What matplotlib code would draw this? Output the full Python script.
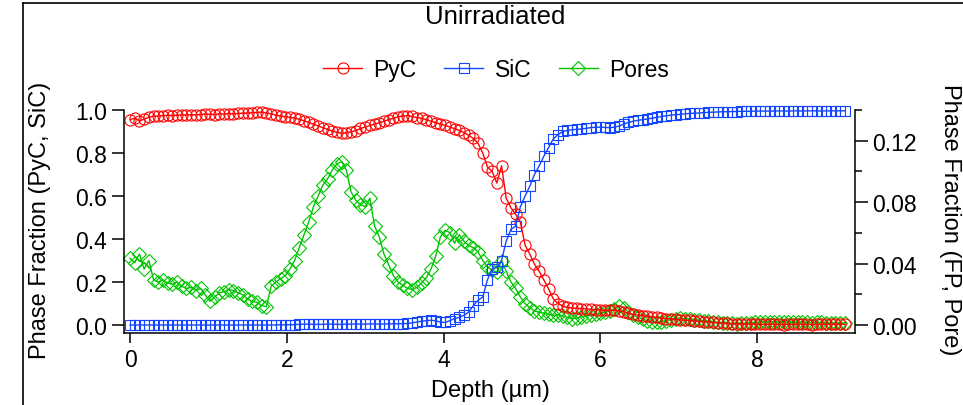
import numpy as np
import matplotlib
matplotlib.use('Agg')
import matplotlib.pyplot as plt
from matplotlib.lines import Line2D
from matplotlib.ticker import FixedLocator, FormatStrFormatter

plt.rcParams['font.family'] = ['Liberation Sans', 'DejaVu Sans']

# depth grid (µm), one sample every 0.06 µm
depth = np.round(np.arange(153) * 0.06, 2)

# phase fraction of PyC (left axis)
pyc = [0.955, 0.962, 0.950, 0.957, 0.966, 0.972, 0.971, 0.974, 0.975, 0.974,
       0.976, 0.977, 0.976, 0.978, 0.977, 0.979, 0.981, 0.980, 0.979, 0.982,
       0.981, 0.983, 0.982, 0.984, 0.985, 0.986, 0.987, 0.989, 0.990, 0.986,
       0.982, 0.976, 0.972, 0.968, 0.966, 0.962, 0.956, 0.950, 0.942, 0.934,
       0.926, 0.918, 0.910, 0.902, 0.896, 0.892, 0.894, 0.899, 0.904, 0.914,
       0.921, 0.928, 0.934, 0.941, 0.948, 0.955, 0.962, 0.968, 0.972, 0.974,
       0.970, 0.965, 0.961, 0.955, 0.948, 0.941, 0.934, 0.928, 0.921, 0.913,
       0.905, 0.895, 0.883, 0.868, 0.845, 0.800, 0.735, 0.715, 0.660, 0.740,
       0.590, 0.545, 0.515, 0.480, 0.372, 0.330, 0.283, 0.250, 0.210, 0.168,
       0.122, 0.100, 0.088, 0.082, 0.079, 0.078, 0.076, 0.075, 0.073, 0.071,
       0.070, 0.069, 0.068, 0.068, 0.066, 0.062, 0.054, 0.049, 0.046, 0.043,
       0.041, 0.038, 0.035, 0.032, 0.030, 0.028, 0.026, 0.024, 0.022, 0.021,
       0.019, 0.017, 0.016, 0.014, 0.012, 0.010, 0.009, 0.007, 0.006, 0.005,
       0.005, 0.004, 0.004, 0.004, 0.003, 0.003, 0.004, 0.003, 0.003, 0.002,
       0.003, 0.003, 0.004, 0.003, 0.003, 0.002, 0.003, 0.003, 0.003, 0.004,
       0.003, 0.003, 0.003]

# phase fraction of SiC (left axis)
sic = [0.000, 0.000, 0.000, 0.000, 0.000, 0.000, 0.000, 0.000, 0.000, 0.000,
       0.000, 0.000, 0.000, 0.000, 0.000, 0.000, 0.000, 0.000, 0.000, 0.000,
       0.000, 0.000, 0.000, 0.000, 0.000, 0.000, 0.000, 0.000, 0.000, 0.000,
       0.000, 0.000, 0.001, 0.001, 0.001, 0.002, 0.003, 0.004, 0.004, 0.003,
       0.003, 0.003, 0.004, 0.004, 0.003, 0.003, 0.004, 0.004, 0.005, 0.004,
       0.004, 0.005, 0.005, 0.004, 0.005, 0.005, 0.006, 0.006, 0.006, 0.007,
       0.010, 0.014, 0.018, 0.020, 0.022, 0.020, 0.013, 0.012, 0.020, 0.030,
       0.036, 0.045, 0.060, 0.090, 0.115, 0.130, 0.210, 0.260, 0.270, 0.300,
       0.390, 0.445, 0.460, 0.550, 0.600, 0.645, 0.700, 0.740, 0.785, 0.825,
       0.865, 0.885, 0.900, 0.905, 0.908, 0.910, 0.912, 0.915, 0.918, 0.920,
       0.920, 0.919, 0.918, 0.920, 0.925, 0.935, 0.942, 0.948, 0.952, 0.955,
       0.958, 0.962, 0.966, 0.970, 0.973, 0.976, 0.978, 0.980, 0.982, 0.984,
       0.985, 0.986, 0.988, 0.989, 0.990, 0.991, 0.992, 0.992, 0.993, 0.993,
       0.994, 0.994, 0.994, 0.995, 0.995, 0.995, 0.995, 0.995, 0.996, 0.995,
       0.995, 0.996, 0.996, 0.995, 0.996, 0.996, 0.996, 0.995, 0.996, 0.996,
       0.996, 0.996, 0.996]

# phase fraction of pores (right axis)
pores = [0.0434, 0.0406, 0.0462, 0.0364, 0.0420, 0.0294, 0.0280, 0.0294, 0.0273, 0.0266,
         0.0280, 0.0252, 0.0238, 0.0245, 0.0224, 0.0238, 0.0196, 0.0154, 0.0182, 0.0210,
         0.0217, 0.0231, 0.0224, 0.0210, 0.0196, 0.0168, 0.0154, 0.0147, 0.0126, 0.0119,
         0.0252, 0.0280, 0.0301, 0.0322, 0.0364, 0.0420, 0.0504, 0.0588, 0.0672, 0.0770,
         0.0840, 0.0910, 0.0952, 0.1008, 0.1050, 0.1064, 0.1008, 0.0868, 0.0812, 0.0784,
         0.0770, 0.0826, 0.0644, 0.0574, 0.0462, 0.0392, 0.0322, 0.0280, 0.0259, 0.0238,
         0.0231, 0.0245, 0.0273, 0.0308, 0.0364, 0.0448, 0.0574, 0.0616, 0.0602, 0.0532,
         0.0588, 0.0546, 0.0518, 0.0504, 0.0476, 0.0420, 0.0378, 0.0357, 0.0343, 0.0420,
         0.0350, 0.0280, 0.0238, 0.0182, 0.0140, 0.0112, 0.0091, 0.0084, 0.0077, 0.0070,
         0.0063, 0.0067, 0.0059, 0.0049, 0.0042, 0.0045, 0.0053, 0.0059, 0.0063, 0.0070,
         0.0077, 0.0084, 0.0091, 0.0105, 0.0126, 0.0112, 0.0084, 0.0063, 0.0049, 0.0039,
         0.0028, 0.0021, 0.0017, 0.0021, 0.0028, 0.0035, 0.0042, 0.0046, 0.0042, 0.0039,
         0.0035, 0.0031, 0.0028, 0.0025, 0.0021, 0.0017, 0.0014, 0.0011, 0.0010, 0.0008,
         0.0010, 0.0011, 0.0014, 0.0017, 0.0020, 0.0021, 0.0022, 0.0021, 0.0020, 0.0018,
         0.0018, 0.0017, 0.0018, 0.0020, 0.0017, 0.0015, 0.0017, 0.0017, 0.0015, 0.0014,
         0.0015, 0.0014, 0.0014]

left_ticks = [0.0, 0.2, 0.4, 0.6, 0.8, 1.0]
right_ticks = [0.00, 0.04, 0.08, 0.12]
right_minor = [0.02, 0.06, 0.10, 0.14]
x_ticks = [0, 2, 4, 6, 8]

W, H = 963, 406
fig = plt.figure(figsize=(W / 100, H / 100), dpi=100)
ax = fig.add_axes([124 / W, 1 - 334 / H, (855 - 124) / W, (334 - 111) / H])
axr = ax.twinx()
# pores behind PyC / SiC
ax.set_zorder(axr.get_zorder() + 1)
ax.patch.set_visible(False)

red, blue, green = '#ff0000', '#1446ff', '#00c400'
l1, = ax.plot(depth, pyc, color=red, marker='o', ms=8, mfc='none', mew=0.8,
              lw=1, clip_on=False, label='PyC')
l2, = ax.plot(depth, sic, color=blue, marker='s', ms=7, mfc='none', mew=0.8,
              lw=1, clip_on=False, label='SiC')
l3, = axr.plot(depth, pores, color=green, marker='D', ms=7, mfc='none', mew=0.8,
               lw=1, clip_on=False, label='Pores')

ybot = -8 / 215
ax.set_xlim(-0.077, 9.25)
ax.set_ylim(ybot, 1.0)
axr.set_ylim(ybot * 0.14, 0.14)

ax.set_xticks(x_ticks)
ax.set_yticks(left_ticks)
ax.yaxis.set_major_formatter(FormatStrFormatter('%.1f'))
axr.set_yticks(right_ticks)
axr.yaxis.set_minor_locator(FixedLocator(right_minor))
axr.yaxis.set_major_formatter(FormatStrFormatter('%.2f'))

for a in (ax, axr):
    a.spines['top'].set_visible(False)
    for s in a.spines.values():
        s.set_linewidth(1.1)
ax.spines['right'].set_visible(False)
axr.spines['left'].set_visible(False)
axr.spines['bottom'].set_visible(False)

fs = 16.5
ax.tick_params(axis='y', direction='out', length=9, width=1.1, pad=3, labelsize=fs)
ax.tick_params(axis='x', direction='out', length=7, width=1.1, pad=4, labelsize=fs)
axr.tick_params(axis='y', which='major', direction='out', length=9, width=1.1,
                pad=3, labelsize=fs)
axr.tick_params(axis='y', which='minor', direction='out', length=5, width=1.1)

fig.text(40 / W, 1 - 220 / H, 'Phase Fraction (PyC, SiC)', rotation=90,
         ha='center', va='center', fontsize=17)
fig.text(950 / W, 1 - 220 / H, 'Phase Fraction (FP, Pore)', rotation=270,
         ha='center', va='center', fontsize=17)
fig.text(490 / W, 1 - 391 / H, 'Depth (µm)', ha='center', va='center', fontsize=17)
fig.text(495 / W, 1 - 17 / H, 'Unirradiated', ha='center', va='center', fontsize=18.5)

fig.legend(handles=[l1, l2, l3], loc='center', bbox_to_anchor=(496 / W, 1 - 71 / H),
           ncol=3, frameon=False, fontsize=16.5, handlelength=1.7,
           handletextpad=0.5, columnspacing=1.2)

# outer frame lines (top and left)
fig.add_artist(Line2D([23 / W, 1], [1 - 4 / H, 1 - 4 / H], transform=fig.transFigure,
                      color='black', lw=1.2))
fig.add_artist(Line2D([23 / W, 23 / W], [0, 1 - 4 / H], transform=fig.transFigure,
                      color='black', lw=1.2))

fig.savefig('out.png', dpi=100)
